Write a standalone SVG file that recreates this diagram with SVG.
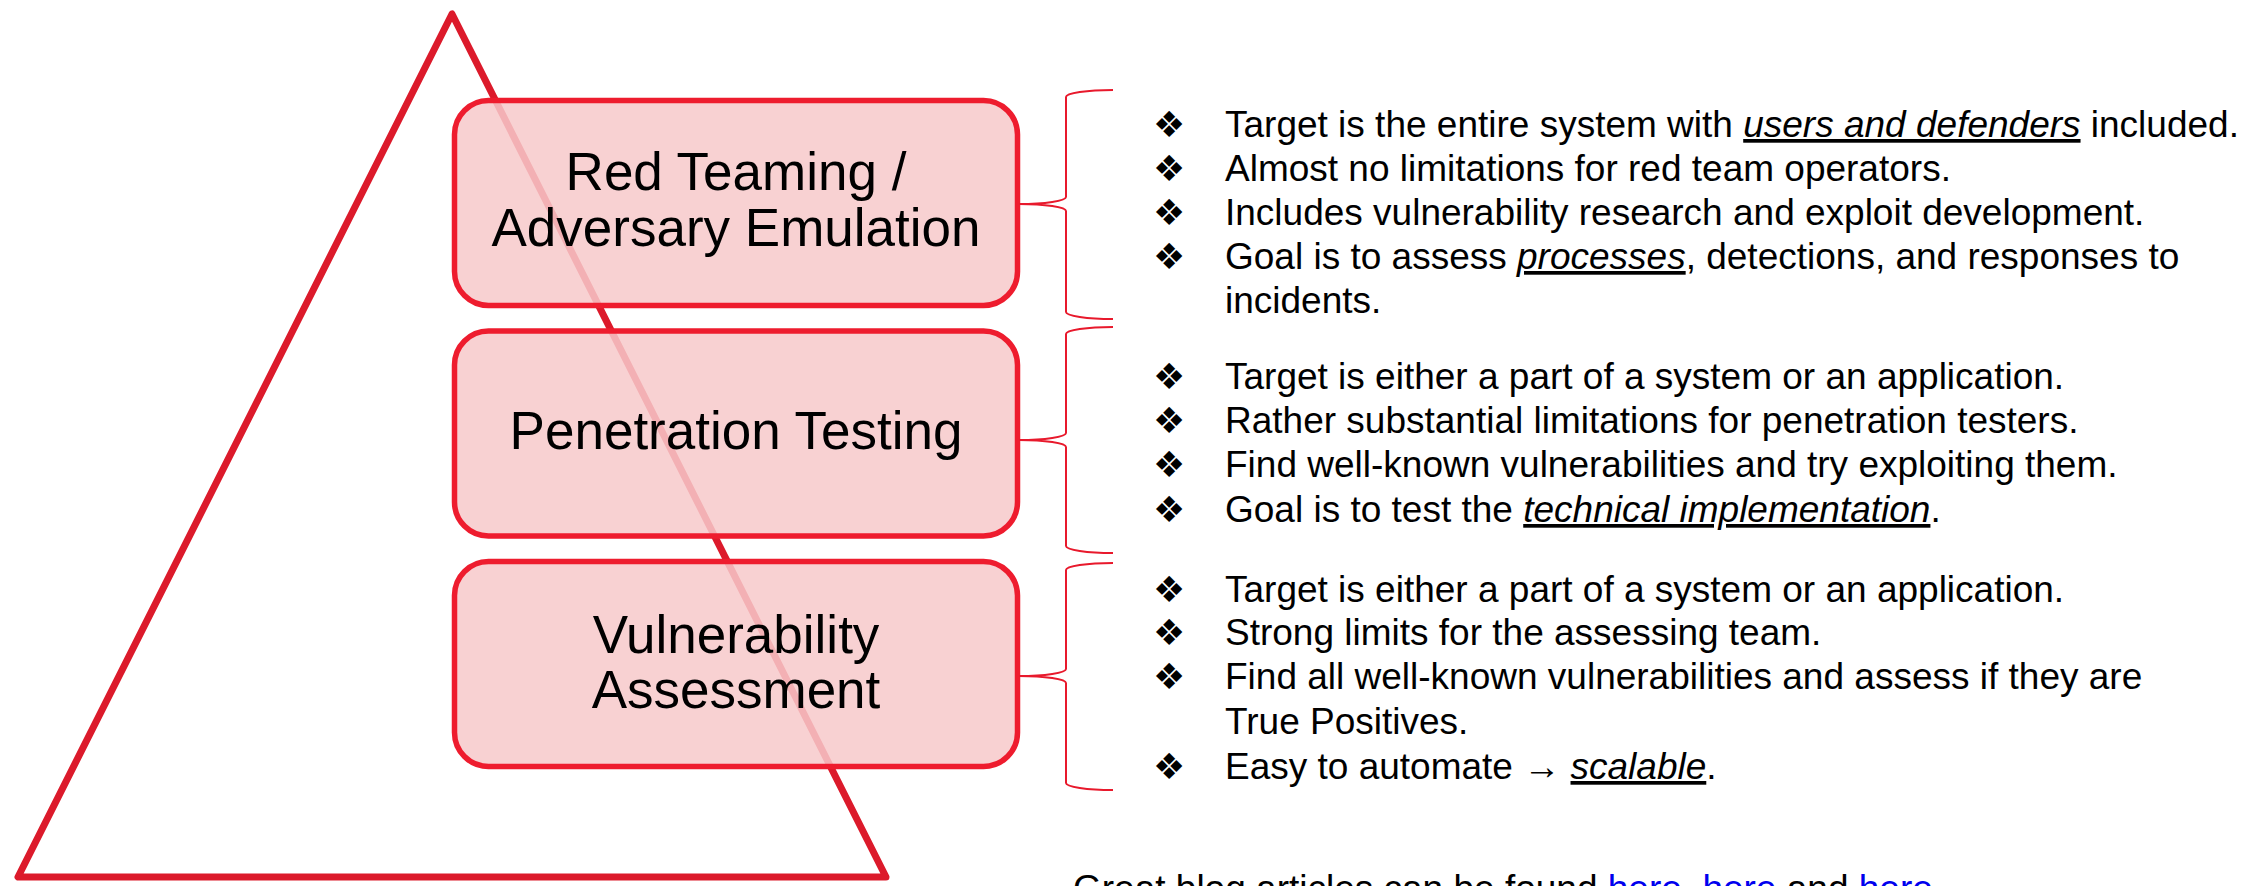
<svg xmlns="http://www.w3.org/2000/svg" width="2266" height="886" viewBox="0 0 2266 886">
  <style>
    .tier { fill: #f7c9cb; fill-opacity: 0.86; stroke: #ee1c2e; stroke-width: 5.5; }
    .tier-label { font-family: "Liberation Sans", Arial, sans-serif; font-size: 53px; fill: #000; text-anchor: middle; }
    .brace { fill: none; stroke: #e8192c; stroke-width: 2; }
    .item { font-family: "Liberation Sans", Arial, sans-serif; font-size: 37px; fill: #000; }
    .bullet { font-family: "DejaVu Sans", sans-serif; font-size: 36px; fill: #000; }
    .em { font-style: italic; text-decoration: underline; }
    .link { fill: #0000ee; }
  </style>

  <rect width="2266" height="886" fill="#ffffff"/>

  <!-- pyramid outline behind the tiers -->
  <polygon id="pyramid" points="452,14 18,877 886,877" fill="none" stroke="#dc1a2b" stroke-width="7" stroke-linejoin="round"/>

  <!-- tiers -->
  <g id="node-red-teaming">
    <rect class="tier" x="454.5" y="100.5" width="563" height="205" rx="34"/>
    <text class="tier-label" x="736" y="190">Red Teaming /</text>
    <text class="tier-label" x="736" y="246">Adversary Emulation</text>
  </g>
  <g id="node-penetration-testing">
    <rect class="tier" x="454.5" y="331" width="563" height="205" rx="34"/>
    <text class="tier-label" x="736" y="449">Penetration Testing</text>
  </g>
  <g id="node-vulnerability-assessment">
    <rect class="tier" x="454.5" y="561.5" width="563" height="205" rx="34"/>
    <text class="tier-label" x="736" y="653">Vulnerability</text>
    <text class="tier-label" x="736" y="708">Assessment</text>
  </g>

  <!-- braces linking each tier to its description -->
  <g id="connectors">
    <path class="brace" d="M1113,90 A47,7 0 0 0 1066,97 L1066,197 A47,7 0 0 1 1019,204 A47,7 0 0 1 1066,211 L1066,312 A47,7 0 0 0 1113,319"/>
    <path class="brace" d="M1113,327 A47,7 0 0 0 1066,334 L1066,433 A47,7 0 0 1 1019,440 A47,7 0 0 1 1066,447 L1066,546 A47,7 0 0 0 1113,553"/>
    <path class="brace" d="M1113,563 A47,7 0 0 0 1066,570 L1066,669 A47,7 0 0 1 1019,676 A47,7 0 0 1 1066,683 L1066,783 A47,7 0 0 0 1113,790"/>
  </g>

  <!-- red teaming description -->
  <g id="desc-red-teaming">
    <text class="bullet" x="1153" y="137">❖</text>
    <text class="item" x="1225" y="137">Target is the entire system with <tspan class="em">users and defenders</tspan> included.</text>
    <text class="bullet" x="1153" y="181">❖</text>
    <text class="item" x="1225" y="181">Almost no limitations for red team operators.</text>
    <text class="bullet" x="1153" y="225">❖</text>
    <text class="item" x="1225" y="225">Includes vulnerability research and exploit development.</text>
    <text class="bullet" x="1153" y="269">❖</text>
    <text class="item" x="1225" y="269">Goal is to assess <tspan class="em">processes</tspan>, detections, and responses to</text>
    <text class="item" x="1225" y="313">incidents.</text>
  </g>

  <!-- penetration testing description -->
  <g id="desc-penetration-testing">
    <text class="bullet" x="1153" y="389">❖</text>
    <text class="item" x="1225" y="389">Target is either a part of a system or an application.</text>
    <text class="bullet" x="1153" y="433">❖</text>
    <text class="item" x="1225" y="433">Rather substantial limitations for penetration testers.</text>
    <text class="bullet" x="1153" y="477">❖</text>
    <text class="item" x="1225" y="477">Find well-known vulnerabilities and try exploiting them.</text>
    <text class="bullet" x="1153" y="522">❖</text>
    <text class="item" x="1225" y="522">Goal is to test the <tspan class="em">technical implementation</tspan>.</text>
  </g>

  <!-- vulnerability assessment description -->
  <g id="desc-vulnerability-assessment">
    <text class="bullet" x="1153" y="602">❖</text>
    <text class="item" x="1225" y="602">Target is either a part of a system or an application.</text>
    <text class="bullet" x="1153" y="645">❖</text>
    <text class="item" x="1225" y="645">Strong limits for the assessing team.</text>
    <text class="bullet" x="1153" y="689">❖</text>
    <text class="item" x="1225" y="689">Find all well-known vulnerabilities and assess if they are</text>
    <text class="item" x="1225" y="734">True Positives.</text>
    <text class="bullet" x="1153" y="779">❖</text>
    <text class="item" x="1225" y="779">Easy to automate → <tspan class="em">scalable</tspan>.</text>
  </g>

  <!-- footer -->
  <text class="item" x="1073" y="901">Great blog articles can be found <tspan class="link" text-decoration="underline">here</tspan>, <tspan class="link" text-decoration="underline">here</tspan> and <tspan class="link" text-decoration="underline">here</tspan>.</text>
</svg>
